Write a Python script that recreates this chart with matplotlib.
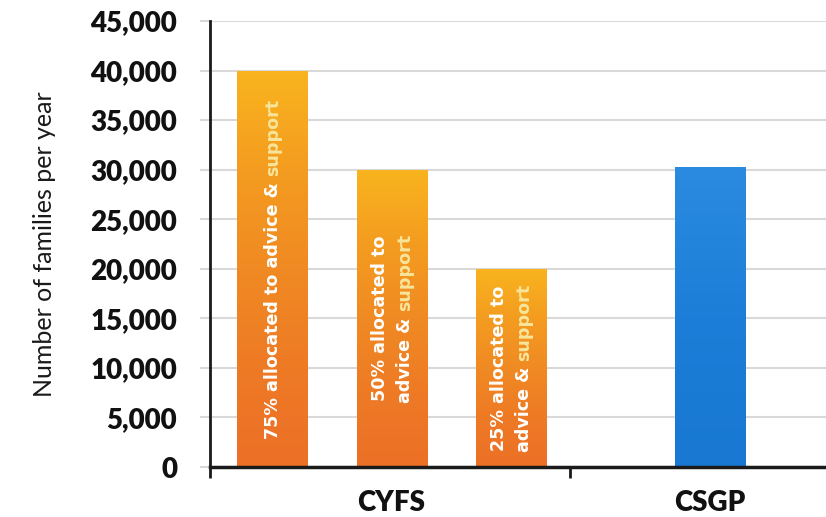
import numpy as np
import matplotlib
matplotlib.use("Agg")
import matplotlib.pyplot as plt
from matplotlib.ticker import FuncFormatter, FixedLocator
from matplotlib.colors import LinearSegmentedColormap
from matplotlib.font_manager import FontProperties

# ---- data ----
categories = ["CYFS", "CSGP"]
bar_values = [40000, 30000, 20000, 30300]
bar_groups = ["CYFS", "CYFS", "CYFS", "CSGP"]
bar_labels = [
    ["75% allocated to advice & support"],
    ["50% allocated to", "advice & support"],
    ["25% allocated to", "advice & support"],
    [],
]
highlight_word = "support"
y_ticks = list(range(0, 45001, 5000))
y_label = "Number of families per year"

# ---- layout ----
FONT = "Lato"
W, H = 826, 517
fig = plt.figure(figsize=(W / 100, H / 100), dpi=100)
ax_left, ax_bottom, ax_top = 210, 467, 21
ax = fig.add_axes([ax_left / W, (H - ax_bottom) / H, (W - ax_left) / W, (ax_bottom - ax_top) / H])

positions = [0, 1, 2, 3.665]
bar_width = 0.586
xlim = (-0.519, 4.636)
group_boundary = 2.494

orange_stops = ["#F9B41E", "#F49C20", "#F08A23", "#EE7A25", "#EC7027"]
orange_cmap = LinearSegmentedColormap.from_list("org", orange_stops)
blue_stops = ["#2B8BE0", "#1C7ED8", "#1878D2"]
blue_cmap = LinearSegmentedColormap.from_list("blu", blue_stops)

bars = ax.bar(positions, bar_values, width=bar_width, color="none", edgecolor="none", zorder=3)
grad = np.linspace(0, 1, 256).reshape(-1, 1)
for b, grp in zip(bars, bar_groups):
    cmap = orange_cmap if grp == "CYFS" else blue_cmap
    x0, y0 = b.get_x(), b.get_y()
    im = ax.imshow(grad, cmap=cmap, extent=[x0, x0 + b.get_width(), y0, y0 + b.get_height()],
                   aspect="auto", zorder=3, interpolation="bilinear", origin="upper")
    im.set_clip_path(b)

ax.set_xlim(*xlim)
ax.set_ylim(0, 45000)

# grid & spines
ax.set_yticks(y_ticks)
ax.yaxis.set_major_formatter(FuncFormatter(lambda v, p: f"{int(v):,}"))
ax.grid(axis="y", color="#D9D9D9", linewidth=1.5, zorder=0)
ax.set_axisbelow(True)
for s in ["top", "right"]:
    ax.spines[s].set_visible(False)
ax.spines["left"].set_linewidth(2)
ax.spines["left"].set_color("#1a1a1a")
ax.spines["bottom"].set_linewidth(2.5)
ax.spines["bottom"].set_color("#1a1a1a")
ax.spines["bottom"].set_zorder(5)

ax.tick_params(axis="y", length=7.2, width=1.5, color="#D9D9D9", pad=16.5,
               labelsize=20, labelcolor="#111111")
for t in ax.get_yticklabels():
    t.set_fontfamily(FONT)
    t.set_fontweight("heavy")

# x ticks: labels centred under groups' reference bars, boundary ticks as minor
label_pos = [positions[1], positions[3]]
ax.set_xticks(label_pos)
ax.set_xticklabels(categories, fontfamily=FONT, fontweight="heavy", fontsize=20, color="#111111")
ax.tick_params(axis="x", which="major", length=0, pad=16.5)
ax.xaxis.set_minor_locator(FixedLocator([xlim[0], group_boundary]))
ax.tick_params(axis="x", which="minor", length=8, width=2, color="#1a1a1a", direction="out")

ax.set_ylabel(y_label, fontfamily=FONT, fontsize=18, color="#1a1a1a")
ax.yaxis.set_label_coords((56 - ax_left) / (W - ax_left), 0.5)

# ---- bar labels (rotated, with highlighted word) ----
fig.canvas.draw()
r = fig.canvas.get_renderer()
LBL_SIZE = 12.6
fp = FontProperties(family="DejaVu Sans", weight="bold", size=LBL_SIZE)
fpx = LBL_SIZE * 100 / 72.0

def width_px(s):
    w, h, d = r.get_text_width_height_descent(s, fp, ismath=False)
    return w

inv = ax.transData.inverted()
line_spacing = 25
for b, lines in zip(bars, bar_labels):
    if not lines:
        continue
    cx, cy = ax.transData.transform((b.get_x() + b.get_width() / 2, b.get_height() / 2))
    n = len(lines)
    for k, line in enumerate(lines):
        lc = cx + (k - (n - 1) / 2) * line_spacing
        xb = lc + 0.33 * fpx
        wfull = width_px(line)
        ys = cy - wfull / 2
        if line.endswith(highlight_word):
            prefix = line[: -len(highlight_word)].rstrip()
            dx, dy = inv.transform((xb, ys))
            ax.text(dx, dy, prefix, rotation=90, rotation_mode="anchor", ha="left", va="baseline",
                    fontproperties=fp, color="white", zorder=6)
            dx, dy = inv.transform((xb, ys + wfull))
            ax.text(dx, dy, highlight_word, rotation=90, rotation_mode="anchor", ha="right", va="baseline",
                    fontproperties=fp, color="#F8E59A", zorder=6)
        else:
            dx, dy = inv.transform((xb, ys))
            ax.text(dx, dy, line, rotation=90, rotation_mode="anchor", ha="left", va="baseline",
                    fontproperties=fp, color="white", zorder=6)

fig.savefig("out.png", dpi=100)
